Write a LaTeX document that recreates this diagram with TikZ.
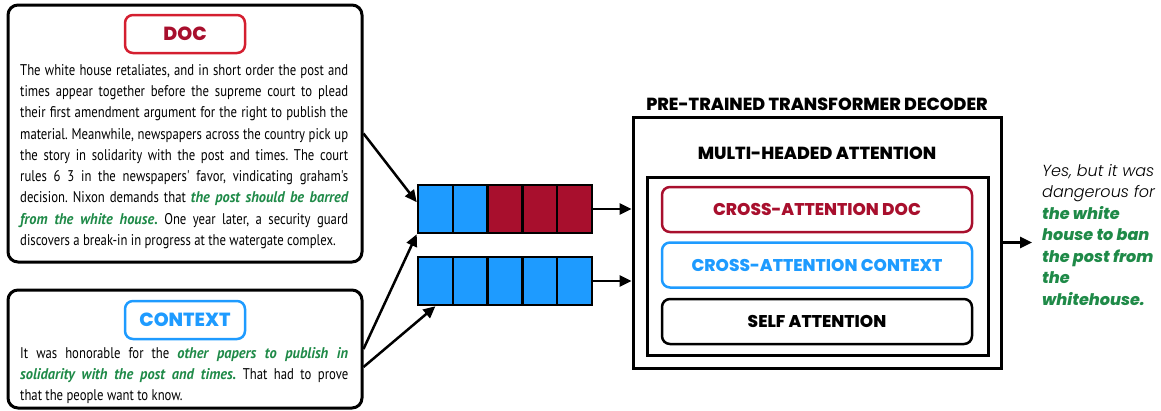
\documentclass[tikz,border=0pt]{standalone}
\usepackage{fontspec}
\setmainfont{PT Sans}
\newfontfamily\bodyfont[FakeStretch=0.82, BoldItalicFeatures={FakeStretch=0.93}]{PT Sans}
\newfontfamily\headfont[BoldFont={Poppins ExtraBold}]{Poppins}
\newfontfamily\outfont[ItalicFont={Poppins Light Italic}, BoldItalicFont={Poppins ExtraBold Italic}]{Poppins}
\usetikzlibrary{arrows.meta}

\definecolor{tagred}{HTML}{D41F30}
\definecolor{darkred}{HTML}{A80F2D}
\definecolor{ctxblue}{HTML}{1E9BFF}
\definecolor{hlgreen}{HTML}{1F8A48}
\newcommand{\hlgr}[1]{{\color{hlgreen}\bfseries\itshape #1}}

\begin{document}
\frenchspacing
\begin{tikzpicture}[
    x=1pt, y=-1pt,
    inbox/.style={draw, line width=3pt, rounded corners=10pt, minimum width=354pt, inner sep=0pt},
    tagbox/.style={draw, line width=2.5pt, rounded corners=8pt, minimum width=120pt, minimum height=38pt, inner sep=0pt, font=\headfont\bfseries\fontsize{19}{19}\selectfont},
    para/.style={text width=328pt, align=justify, inner sep=0pt, anchor=north west, font=\bodyfont\fontsize{15.5}{21.3}\selectfont},
    cell/.style={draw, line width=2.5pt, minimum width=34.8pt, minimum height=48pt, inner sep=0pt},
    frame/.style={draw, line width=3pt, inner sep=0pt},
    heading/.style={font=\headfont\bfseries\fontsize{17.5}{17.5}\selectfont},
    attn/.style={draw, line width=2.5pt, rounded corners=8pt, minimum width=310pt, minimum height=45pt, inner sep=0pt, font=\headfont\bfseries\fontsize{17}{17}\selectfont},
    arrow/.style={-{Triangle[length=12pt,width=11pt]}, line width=2.5pt}
]
\useasboundingbox (0,0) rectangle (1161,410);

% Document
\node[inbox, minimum height=257pt] (docbox) at (185,133.5) {};
\node[tagbox, draw=tagred, text=darkred] (doctag) at (185,34) {DOC};
\node[para] (doctext) at (20,64) {The white house retaliates, and in short order the post and\linebreak
times appear together before the supreme court to plead\linebreak
their first amendment argument for the right to publish the\linebreak
material. Meanwhile, newspapers across the country pick up\linebreak
the story in solidarity with the post and times. The court\linebreak
rules 6 3 in the newspapers' favor, vindicating graham's\linebreak
decision. Nixon demands that \hlgr{the post should be barred\linebreak
from the white house.} One year later, a security guard\linebreak
discovers a break-in in progress at the watergate complex.};

% Context
\node[inbox, minimum height=118pt] (ctxbox) at (185,349) {};
\node[tagbox, draw=ctxblue, text=ctxblue] (ctxtag) at (185,320) {CONTEXT};
\node[para] (ctxtext) at (20,347) {It was honorable for the \hlgr{other papers to publish in\linebreak
solidarity with the post and times.} That had to prove\linebreak
that the people want to know.};

% Token sequences
\foreach \i/\c in {1/ctxblue,2/ctxblue,3/darkred,4/darkred,5/darkred}
  \node[cell, fill=\c] (top\i) at ({418+(\i-0.5)*34.8},209) {};
\foreach \i in {1,...,5}
  \node[cell, fill=ctxblue] (bot\i) at ({418+(\i-0.5)*34.8},281) {};

% Decoder
\node[frame, minimum width=368pt, minimum height=251pt] (dec) at (817,242.5) {};
\node[heading] (dectitle) at (817,104) {PRE-TRAINED TRANSFORMER DECODER};
\node[frame, minimum width=341pt, minimum height=178pt] (mha) at (817.5,266) {};
\node[heading] (mhatitle) at (817,153) {MULTI-HEADED ATTENTION};
\node[attn, draw=darkred, text=darkred] (crossdoc) at (817,209.5) {CROSS-ATTENTION DOC};
\node[attn, draw=ctxblue, text=ctxblue] (crossctx) at (817,265) {CROSS-ATTENTION CONTEXT};
\node[attn] (selfattn) at (817,321.5) {SELF ATTENTION};

% Output
\node[anchor=north west, inner sep=0pt, align=left, font=\outfont\fontsize{16}{21.5}\selectfont] (out) at (1042,164) {\itshape Yes, but it was\\
\itshape dangerous for\\
\hlgr{the white}\\
\hlgr{house to ban}\\
\hlgr{the post from}\\
\hlgr{the}\\
\hlgr{whitehouse.}};

% Arrows
\draw[arrow] (docbox.east) -- (top1.160);
\draw[arrow] (ctxbox.east) -- (top1.south west);
\draw[arrow] ([yshift=-18pt]ctxbox.east) -- (bot1.south);
\draw[arrow] (top5.east) -- (top5.east -| dec.west);
\draw[arrow] (bot5.east) -- (bot5.east -| dec.west);
\draw[arrow, shorten >=10pt] (dec.east) -- (dec.east -| out.west);

\end{tikzpicture}
\end{document}
